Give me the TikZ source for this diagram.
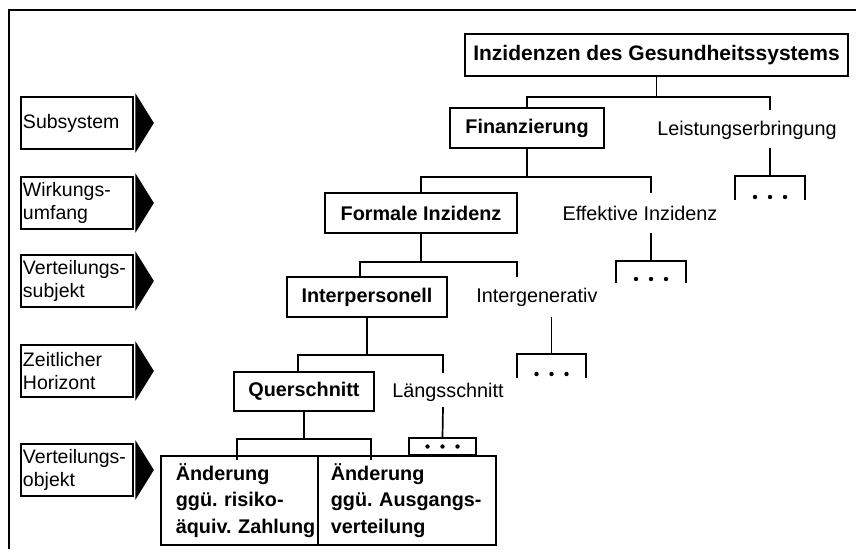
\documentclass[tikz,border=0pt]{standalone}
\usepackage{fontspec}
\setmainfont{Liberation Sans}
\begin{document}
\begin{tikzpicture}[x=1pt,y=-1pt,
  line width=1.7pt,
  every node/.style={inner sep=0pt},
  txt/.style={font=\fontsize{19.8}{23}\selectfont},
  bbox/.style={draw, font=\fontsize{19.8}{23}\selectfont\bfseries},
  lbox/.style={draw, font=\fontsize{19.5}{23}\selectfont, text width=108pt, inner xsep=2pt, align=left, minimum height=52pt},
  obox/.style={draw, font=\fontsize{19.8}{26.5}\selectfont\bfseries, align=left, anchor=north west, minimum height=89pt},
  brk/.style={minimum width=#1, minimum height=22pt},
  dotmark/.style={fill=black}
]
\useasboundingbox (0,0) rectangle (856,549);
% frame
\draw (9,549) -- (9,10) -- (856,10);

% left category boxes
\node[lbox] (s1) at (77,123) {Subsystem};
\node[lbox] (s2) at (77,203) {Wirkungs-\\umfang};
\node[lbox] (s3) at (77,281) {Verteilungs-\\subjekt};
\node[lbox] (s4) at (77,371) {Zeitlicher\\Horizont};
\node[lbox] (s5) at (77,470) {Verteilungs-\\objekt};
\foreach \n in {s1,s2,s3,s4,s5}{
  \fill ([xshift=1.5pt,yshift=3pt]\n.north east) -- ([xshift=20pt]\n.east) -- ([xshift=1.5pt,yshift=-3pt]\n.south east) -- cycle;
}

% tree nodes
\node[bbox, font=\fontsize{21}{25}\selectfont\bfseries, minimum width=383pt, minimum height=42pt] (top) at (656.5,55) {Inzidenzen des Gesundheitssystems};
\node[bbox, minimum width=154pt, minimum height=40pt] (fin) at (527,128) {Finanzierung};
\node[txt] (leist) at (747,130) {Leistungserbringung};
\node[bbox, minimum width=192pt, minimum height=40pt] (formal) at (421,213) {Formale Inzidenz};
\node[txt] (eff) at (640,213) {Effektive Inzidenz};
\node[bbox, minimum width=160pt, minimum height=40pt] (inter) at (367,297) {Interpersonell};
\node[txt] (intergen) at (537,297) {Intergenerativ};
\node[bbox, minimum width=140pt, minimum height=39pt] (quer) at (304,391.5) {Querschnitt};
\node[txt] (laengs) at (448,392) {Längsschnitt};
\node[obox, inner xsep=15pt, text width=127pt] (ob1) at (160,455) {Änderung\\ggü.~risiko-\\äquiv.~Zahlung};
\node[obox, inner xsep=13pt, text width=152pt] (ob2) at (317,455) {Änderung\\ggü.~Ausgangs-\\verteilung};

% bracket nodes with dots
\node[brk=68pt] (b1) at (770,188) {};
\node[brk=68pt, minimum height=20pt] (b2) at (651,272) {};
\node[brk=67pt] (b3) at (551.5,366) {};
\node[draw, minimum width=67pt, minimum height=17pt] (b4) at (442.5,446.5) {};
\draw (b1.south west) -- (b1.north west) -- (b1.north east) -- (b1.south east);
\draw (b2.south west) -- (b2.north west) -- (b2.north east) -- (b2.south east);
\draw (b3.south west) -- (b3.north west) -- (b3.north east) -- (b3.south east);
\foreach \d in {-15,0,15}{
  \fill[dotmark] ([xshift=\d pt, yshift=-9pt]b1.center) circle (2.2pt);
  \fill[dotmark] ([xshift=\d pt, yshift=-7pt]b2.center) circle (2.2pt);
  \fill[dotmark] ([xshift=\d pt, yshift=-8pt]b3.center) circle (2.2pt);
  \fill[dotmark] ([xshift=\d pt]b4.center) circle (2.2pt);
}

% junction coordinates
\coordinate (j1) at (656.5,97);
\coordinate (leistT) at (770,110);
\coordinate (leistB) at (770,148);
\coordinate (j2) at (527,177);
\coordinate (effT) at (651,193);
\coordinate (effB) at (651,233);
\coordinate (j3) at (421,262);
\coordinate (intergenT) at (517,277);
\coordinate (intergenB) at (551.5,317);
\coordinate (j4) at (367,355);
\coordinate (laengsT) at (443,373);
\coordinate (laengsB) at (443,407);
\coordinate (j5) at (304,439);
\coordinate (o1T) at (237,460);
\coordinate (o2T) at (371,460);

% connectors
\draw (top.south) -- (j1);
\draw (fin.north) |- (j1) -| (leistT);
\draw (leistB) -- (b1.north);
\draw (fin.south) -- (j2);
\draw (formal.north) |- (j2) -| (effT);
\draw (effB) -- (b2.north);
\draw (formal.south) -- (j3);
\draw ([xshift=-7pt]inter.north) |- (j3) -| (intergenT);
\draw (intergenB) -- (b3.north);
\draw (inter.south) -- (j4);
\draw ([xshift=-6pt]quer.north) |- (j4) -| (laengsT);
\draw (laengsB) -- (b4.north);
\draw (quer.south) -- (j5);
\draw (o1T) |- (j5) -| (o2T);
\end{tikzpicture}
\end{document}
